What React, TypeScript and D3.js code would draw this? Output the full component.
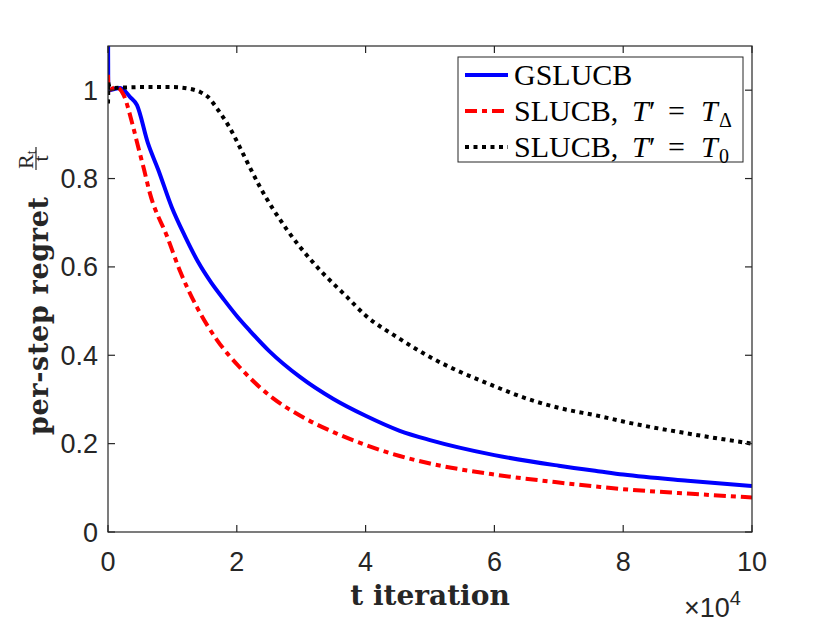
import * as d3 from "d3";

// t in units of 1e4 iterations, per-step regret R_t / t
const gslucbT = [0, 0.005, 0.19, 0.34, 0.45, 0.62, 0.78, 0.99, 1.2, 1.4, 1.6, 1.8, 2.0, 2.2, 2.5, 2.98, 3.5, 4, 4.53, 5, 6, 7, 7.64, 8, 9, 10];
const gslucbV = [1.2, 1.0, 1.005, 0.985, 0.966, 0.88, 0.82, 0.735, 0.668, 0.611, 0.565, 0.526, 0.489, 0.456, 0.41, 0.351, 0.301, 0.263, 0.229, 0.208, 0.174, 0.15, 0.137, 0.13, 0.116, 0.104];

const slucbDeltaT = [0, 0.005, 0.13, 0.24, 0.39, 0.48, 0.55, 0.65, 0.92, 1.12, 1.38, 1.69, 2.05, 2.56, 3, 3.5, 4, 4.53, 5, 6, 7, 7.64, 8, 9, 10];
const slucbDeltaV = [1.035, 1.0, 1.007, 0.99, 0.917, 0.865, 0.826, 0.767, 0.668, 0.59, 0.509, 0.435, 0.372, 0.303, 0.262, 0.226, 0.197, 0.172, 0.155, 0.13, 0.112, 0.102, 0.097, 0.087, 0.078];

const slucbZeroT = [0, 0.01, 0.02, 0.5, 1.0, 1.27, 1.43, 1.55, 1.71, 1.89, 2.05, 2.2, 2.36, 2.78, 3.19, 3.71, 4, 4.5, 5, 6, 6.5, 7, 7.64, 8, 9, 10];
const slucbZeroV = [0.97, 1.02, 1.005, 1.007, 1.007, 1.003, 0.996, 0.985, 0.955, 0.915, 0.87, 0.826, 0.781, 0.684, 0.609, 0.532, 0.49, 0.44, 0.396, 0.33, 0.302, 0.281, 0.262, 0.25, 0.223, 0.2];

const xTicks = [0, 2, 4, 6, 8, 10];
const yTicks = [0, 0.2, 0.4, 0.6, 0.8, 1];
const yTickLabels = ["0", "0.2", "0.4", "0.6", "0.8", "1"];

const W = 830;
const H = 623;
const left = 108, right = 752, top = 46, bottom = 532;
const axisColor = "#262626";

export default function App() {
  const x = d3.scaleLinear().domain([0, 10]).range([left, right]);
  const y = d3.scaleLinear().domain([0, 1.1]).range([bottom, top]);

  const line = d3.line<[number, number]>()
    .x(d => x(d[0]))
    .y(d => y(d[1]))
    .curve(d3.curveMonotoneX);

  const series = [
    { t: gslucbT, v: gslucbV, color: "#0000ff", dash: undefined },
    { t: slucbDeltaT, v: slucbDeltaV, color: "#ff0000", dash: "12,5,5,5" },
    { t: slucbZeroT, v: slucbZeroV, color: "#000000", dash: "4,4.5" },
  ];

  const tickLen = 7;
  const legendY = [75, 111, 147];
  const legendBase = [85, 121, 157];

  return (
    <svg width={W} height={H} style={{ position: "absolute", left: 0, top: 0, background: "#fff" }}>
      <defs>
        <clipPath id="plot">
          <rect x={left} y={top} width={right - left} height={bottom - top} />
        </clipPath>
      </defs>

      {/* data */}
      <g clipPath="url(#plot)">
        {series.map((s, i) => (
          <path
            key={i}
            d={line(s.t.map((t, j) => [t, s.v[j]] as [number, number])) ?? ""}
            fill="none"
            stroke={s.color}
            strokeWidth={4}
            strokeDasharray={s.dash}
          />
        ))}
      </g>

      {/* axes box */}
      <rect x={left} y={top} width={right - left} height={bottom - top} fill="none" stroke={axisColor} strokeWidth={1.2} />

      {xTicks.map(t => (
        <g key={"x" + t}>
          <line x1={x(t)} x2={x(t)} y1={bottom} y2={bottom - tickLen} stroke={axisColor} strokeWidth={1.2} />
          <line x1={x(t)} x2={x(t)} y1={top} y2={top + tickLen} stroke={axisColor} strokeWidth={1.2} />
          <text x={x(t)} y={571} textAnchor="middle" fontFamily="Liberation Sans, Arial, sans-serif" fontSize={27} fill={axisColor}>{t}</text>
        </g>
      ))}

      {yTicks.map((v, i) => (
        <g key={"y" + v}>
          <line x1={left} x2={left + tickLen} y1={y(v)} y2={y(v)} stroke={axisColor} strokeWidth={1.2} />
          <line x1={right} x2={right - tickLen} y1={y(v)} y2={y(v)} stroke={axisColor} strokeWidth={1.2} />
          <text x={98} y={y(v) + 9.5} textAnchor="end" fontFamily="Liberation Sans, Arial, sans-serif" fontSize={27} fill={axisColor}>{yTickLabels[i]}</text>
        </g>
      ))}

      {/* x exponent */}
      <text x={684} y={617} fontFamily="Liberation Sans, Arial, sans-serif" fontSize={27} fill={axisColor}>
        ×10<tspan fontSize={20} dy={-12}>4</tspan>
      </text>

      {/* x label */}
      <text x={430} y={605} textAnchor="middle" fontFamily="DejaVu Serif, serif" fontWeight="bold" fontSize={28} fill={axisColor}>
        t iteration
      </text>

      {/* y label */}
      <g transform="translate(48,0) rotate(-90)">
        <text x={-435} y={0} fontFamily="DejaVu Serif, serif" fontWeight="bold" fontSize={27} fill={axisColor} textLength={238}>
          per-step regret
        </text>
        <text x={-169} y={-15} fontFamily="Liberation Serif, serif" fontSize={22} fill={axisColor}>
          R<tspan fontSize={14} dy={3}>t</tspan>
        </text>
        <line x1={-170} x2={-147} y1={-12} y2={-12} stroke={axisColor} strokeWidth={1.2} />
        <text x={-158.5} y={0} textAnchor="middle" fontFamily="Liberation Serif, serif" fontSize={22} fill={axisColor}>t</text>
      </g>

      {/* legend */}
      <rect x={458} y={57} width={285} height={105} fill="#fff" stroke={axisColor} strokeWidth={1} />
      {series.map((s, i) => (
        <line key={"l" + i} x1={465} x2={508} y1={legendY[i]} y2={legendY[i]} stroke={s.color} strokeWidth={4} strokeDasharray={s.dash} />
      ))}
      <text x={514} y={legendBase[0]} fontFamily="Liberation Serif, serif" fontSize={30} fill="#000">GSLUCB</text>
      {["Δ", "0"].map((sub, i) => (
        <g key={"lt" + i} fontFamily="Liberation Serif, serif" fontSize={30} fill="#000">
          <text x={514} y={legendBase[i + 1]}>SLUCB,</text>
          <text x={632} y={legendBase[i + 1]} fontStyle="italic">T</text>
          <text x={649} y={legendBase[i + 1]}>′</text>
          <text x={668} y={legendBase[i + 1]}>=</text>
          <text x={701} y={legendBase[i + 1]} fontStyle="italic">T</text>
          <text x={719} y={legendBase[i + 1] + 6} fontSize={20}>{sub}</text>
        </g>
      ))}
    </svg>
  );
}
